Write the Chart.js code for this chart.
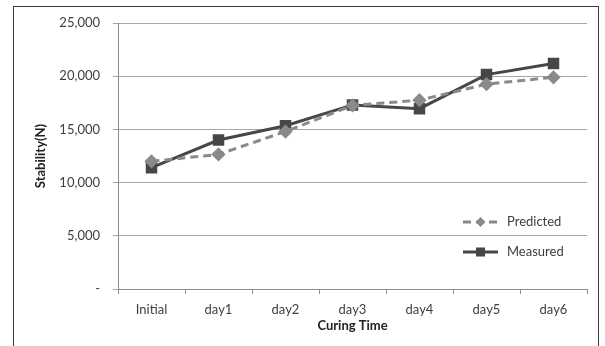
<!DOCTYPE html>
<html>
<head>
<meta charset="utf-8">
<script src="https://cdn.jsdelivr.net/npm/chart.js@4.4.1/dist/chart.umd.min.js"></script>
<style>
  html, body { margin: 0; padding: 0; background: #fff; }
  #wrap { position: relative; width: 605px; height: 346px; }
  #frame { position: absolute; left: 13px; top: 6px; width: 586px; height: 345px;
           border: 1px solid #3a3a3a; border-bottom: none; box-sizing: border-box; }
  canvas { position: absolute; left: 0; top: 0; }
</style>
</head>
<body>
<div id="wrap">
  <div id="frame"></div>
  <canvas id="chart" width="605" height="346"></canvas>
</div>
<script>
const categories = ['Initial', 'day1', 'day2', 'day3', 'day4', 'day5', 'day6'];
const predicted = [12000, 12650, 14800, 17250, 17750, 19250, 19900];
const measured = [11400, 14000, 15350, 17300, 16950, 20150, 21200];
const yTicks = [0, 5000, 10000, 15000, 20000, 25000];

const textColor = '#404040';
const fontFamily = 'Lato, "Open Sans", sans-serif';

// legend drawn inside the plot, lower right, like the original
const insideLegend = {
  id: 'insideLegend',
  afterDraw(chart) {
    const ctx = chart.ctx;
    const area = chart.chartArea;
    const items = chart.data.datasets;
    const x0 = area.right - 124;
    let y = area.bottom - 67;
    ctx.save();
    items.forEach(ds => {
      ctx.strokeStyle = ds.borderColor;
      ctx.lineWidth = ds.borderWidth;
      ctx.setLineDash(ds.borderDash || []);
      ctx.beginPath();
      ctx.moveTo(x0, y);
      ctx.lineTo(x0 + 35, y);
      ctx.stroke();
      ctx.setLineDash([]);
      ctx.fillStyle = ds.pointBackgroundColor;
      const cx = x0 + 17.5;
      if (ds.pointStyle === 'rectRot') {
        ctx.beginPath();
        ctx.moveTo(cx, y - 5); ctx.lineTo(cx + 5, y); ctx.lineTo(cx, y + 5); ctx.lineTo(cx - 5, y);
        ctx.closePath(); ctx.fill();
      } else {
        ctx.fillRect(cx - 4.5, y - 4.5, 9, 9);
      }
      ctx.fillStyle = textColor;
      ctx.font = '13px ' + fontFamily;
      ctx.textBaseline = 'middle';
      ctx.fillText(ds.label, x0 + 44, y);
      y += 30;
    });
    ctx.restore();
  }
};

new Chart(document.getElementById('chart'), {
  type: 'line',
  data: {
    labels: categories,
    datasets: [
      {
        label: 'Predicted',
        data: predicted,
        borderColor: '#8a8a8a',
        backgroundColor: '#8a8a8a',
        pointBackgroundColor: '#8a8a8a',
        pointBorderColor: '#8a8a8a',
        borderWidth: 3,
        borderDash: [8, 5],
        pointStyle: 'rectRot',
        pointRadius: 5,
        tension: 0
      },
      {
        label: 'Measured',
        data: measured,
        borderColor: '#474747',
        backgroundColor: '#474747',
        pointBackgroundColor: '#474747',
        pointBorderColor: '#474747',
        borderWidth: 3,
        pointStyle: 'rect',
        pointRadius: 6,
        tension: 0
      }
    ]
  },
  options: {
    responsive: false,
    animation: false,
    layout: { padding: { left: 33, top: 23, right: 18, bottom: 0 } },
    plugins: { legend: { display: false }, tooltip: { enabled: false } },
    scales: {
      x: {
        offset: true,
        grid: { offset: true, drawOnChartArea: false, drawTicks: true, tickLength: 5, color: '#8c8c8c' },
        border: { color: '#8c8c8c' },
        ticks: { color: textColor, font: { family: fontFamily, size: 13 }, padding: 8 },
        title: { display: true, text: 'Curing Time', color: '#222', font: { family: fontFamily, size: 13, weight: 'bold' }, padding: { top: 2, bottom: 12 } },
        afterFit: scale => { scale.height = 57; }
      },
      y: {
        min: 0,
        max: 25000,
        afterBuildTicks: scale => { scale.ticks = yTicks.map(v => ({ value: v })); },
        grid: { color: '#a6a6a6', tickLength: 5 },
        border: { color: '#8c8c8c' },
        ticks: {
          color: textColor,
          font: { family: fontFamily, size: 13 },
          padding: 13,
          callback: v => v === 0 ? '-' : v.toLocaleString('en-US')
        },
        title: { display: true, text: 'Stability(N)', color: '#222', font: { family: fontFamily, size: 13, weight: 'bold' }, padding: { top: 0, bottom: 0 } },
        afterFit: scale => { scale.width = 85; }
      }
    }
  },
  plugins: [insideLegend]
});
</script>
</body>
</html>
